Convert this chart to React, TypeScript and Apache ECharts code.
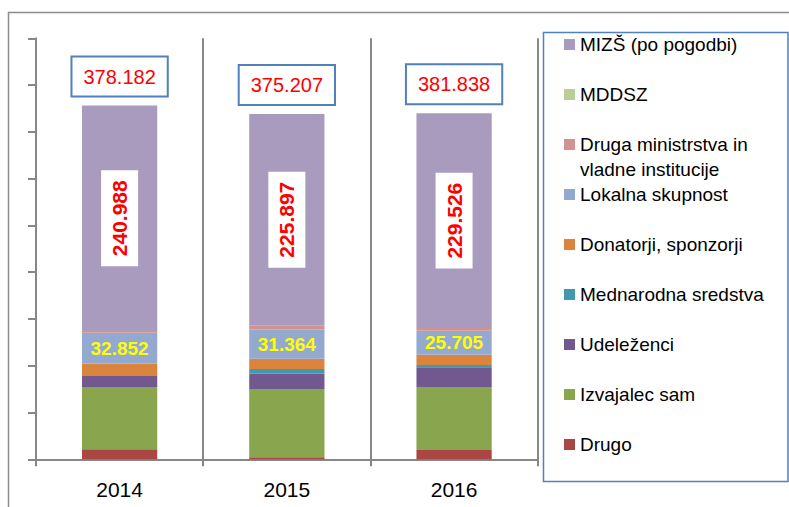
import React, { useEffect, useRef } from "react";
import * as echarts from "echarts";

const categories = ["2014", "2015", "2016"];
const drugo = [10.7, 2.1, 10];
const izvajalec = [66.6, 73, 67.3];
const udelezenci = [11.8, 16.4, 21];
const mednarodna = [0, 5, 2.5];
const donatorji = [13.2, 11, 11];
const lokalna = [32.852, 31.364, 25.705];
const druga = [2, 4.3, 2.8];
const mddsz = [0, 0, 0];
const mizs = [240.988, 225.897, 229.526];
const totals = [378.182, 375.207, 381.838];

const FONT = "Liberation Sans";
const GRAY = "#878787";
const DRUGA_NAME = "Druga ministrstva in vladne institucije";

export default function App() {
  const ref = useRef<HTMLDivElement>(null);
  useEffect(() => {
    if (!ref.current) return;
    const chart = echarts.init(ref.current, undefined, { renderer: "svg" });
    const mk = (name: string, data: number[], color: string, extra: any = {}) => ({
      name,
      type: "bar",
      stack: "s",
      data,
      barWidth: "45%",
      itemStyle: { color },
      ...extra,
    });
    const fmt = (v: number) => v.toFixed(3);
    chart.setOption({
      animation: false,
      textStyle: { fontFamily: FONT },
      grid: { left: 36, top: 38.3, width: 501.7, height: 421 },
      xAxis: {
        type: "category",
        data: categories,
        axisLine: { show: true, lineStyle: { color: GRAY, width: 2 } },
        axisTick: { show: true, length: 7, lineStyle: { color: GRAY, width: 2 } },
        splitLine: { show: true, lineStyle: { color: GRAY, width: 2 } },
        axisLabel: { color: "#000", fontSize: 21, margin: 20, fontFamily: FONT },
      },
      yAxis: {
        type: "value",
        min: 0,
        max: 450,
        interval: 50,
        axisLine: { show: true, lineStyle: { color: GRAY, width: 2 } },
        axisTick: { show: true, length: 8, lineStyle: { color: GRAY, width: 2 } },
        axisLabel: { show: false },
        splitLine: { show: false },
      },
      legend: {
        orient: "vertical",
        left: 564,
        top: 35,
        padding: 0,
        itemWidth: 11,
        itemHeight: 11,
        itemGap: 31,
        icon: "rect",
        textStyle: { fontSize: 19, color: "#000", fontFamily: FONT },
        data: [
          "MIZŠ (po pogodbi)",
          "MDDSZ",
          DRUGA_NAME,
          "Lokalna skupnost",
          "Donatorji, sponzorji",
          "Mednarodna sredstva",
          "Udeleženci",
          "Izvajalec sam",
          "Drugo",
        ],
        formatter: (name: string) => (name === DRUGA_NAME ? "Druga ministrstva in" : name),
      },
      graphic: [
        {
          type: "rect",
          z: -10,
          silent: true,
          shape: { x: 8.5, y: 12.5, width: 900, height: 600 },
          style: { fill: "none", stroke: "#8c8c8c", lineWidth: 1.5 },
        },
        {
          type: "rect",
          z: -5,
          silent: true,
          shape: { x: 543.5, y: 32.5, width: 244.5, height: 449 },
          style: { fill: "#fff", stroke: "#4F81BD", lineWidth: 1.5 },
        },
        {
          type: "text",
          silent: true,
          x: 580,
          y: 169.5,
          style: {
            text: "vladne institucije",
            fontSize: 19,
            fontFamily: FONT,
            fill: "#000",
            verticalAlign: "middle",
            align: "left",
          },
        },
      ],
      series: [
        mk("Drugo", drugo, "#AA4643"),
        mk("Izvajalec sam", izvajalec, "#89A54E"),
        mk("Udeleženci", udelezenci, "#71588F"),
        mk("Mednarodna sredstva", mednarodna, "#4198AF"),
        mk("Donatorji, sponzorji", donatorji, "#DB843D"),
        mk("Lokalna skupnost", lokalna, "#93A9CF", {
          label: {
            show: true,
            position: "inside",
            formatter: (p: any) => fmt(p.value),
            color: "#FFFF00",
            fontWeight: "bold",
            fontSize: 19,
            fontFamily: FONT,
          },
        }),
        mk(DRUGA_NAME, druga, "#D19392"),
        mk("MDDSZ", mddsz, "#B9CD96"),
        mk("MIZŠ (po pogodbi)", mizs, "#A99BBD", {
          label: {
            show: true,
            position: "inside",
            rotate: 90,
            formatter: (p: any) => fmt(p.value),
            color: "#FF0000",
            fontWeight: "bold",
            fontSize: 21,
            fontFamily: FONT,
            backgroundColor: "#fff",
            padding: [8, 10, 8, 10],
          },
        }),
        {
          name: "Skupaj",
          type: "bar",
          stack: "s",
          barWidth: "45%",
          data: totals.map(() => 0),
          itemStyle: { color: "transparent" },
          label: {
            show: true,
            position: "top",
            distance: 10,
            formatter: (p: any) => fmt(totals[p.dataIndex]),
            color: "#FF0000",
            fontSize: 20,
            fontFamily: FONT,
            backgroundColor: "#fff",
            borderColor: "#4F81BD",
            borderWidth: 2,
            padding: [9, 11, 9, 11],
          },
        },
      ],
    });
    return () => chart.dispose();
  }, []);
  return (
    <div
      ref={ref}
      style={{ position: "absolute", left: 0, top: 0, width: 789, height: 507 }}
    />
  );
}
